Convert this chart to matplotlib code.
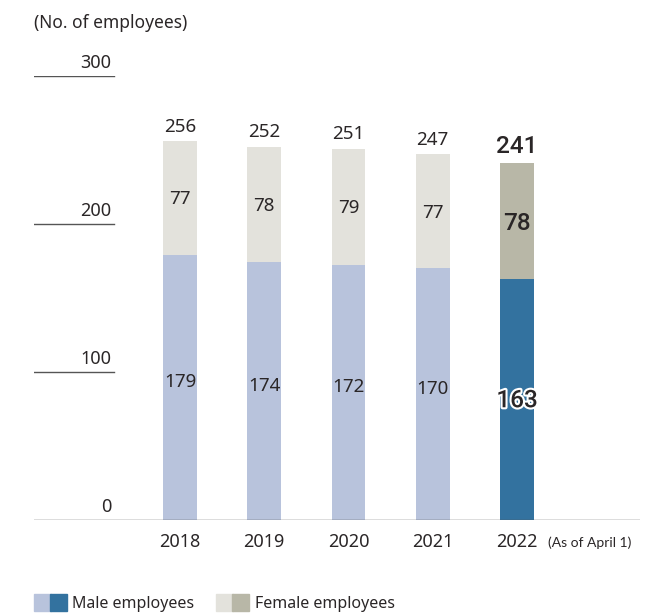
import numpy as np
import matplotlib.pyplot as plt
import matplotlib.patheffects as pe
from matplotlib.patches import Rectangle

plt.rcParams['font.family'] = ['Noto Sans', 'DejaVu Sans']

years = ['2018', '2019', '2020', '2021', '2022']
male = [179, 174, 172, 170, 163]
female = [77, 78, 79, 77, 78]
totals = [256, 252, 251, 247, 241]
yticks = [0, 100, 200, 300]

txt = '#2a2627'
male_c = ['#b8c3dc'] * 4 + ['#33729f']
female_c = ['#e3e2dc'] * 4 + ['#b8b7a7']

W, H = 669, 616
fig = plt.figure(figsize=(W / 100, H / 100), dpi=100)
# axes placed in pixel terms: x 34..640, y 76 (300) .. 520 (0)
ax = fig.add_axes([34 / W, (H - 520) / H, 606 / W, 444 / H])
ax.set_xlim(-1.733, 5.46)
ax.set_ylim(0, 300)
ax.axis('off')

x = np.arange(len(years))
ax.bar(x, male, width=0.40, color=male_c, zorder=2)
ax.bar(x, female, width=0.40, bottom=male, color=female_c, zorder=2)

# short gridline stubs with labels on the left
for t in yticks:
    ax.axhline(t, xmin=0, xmax=(1.0 if t == 0 else 80 / 606), color='#555555', lw=1.0, zorder=3)
    ax.annotate(str(t), xy=(79 / 606, t), xycoords=ax.get_yaxis_transform(),
                xytext=(-1, 3), textcoords='offset points', ha='right', va='bottom',
                fontsize=13, color=txt)

for i in range(len(years)):
    last = i == len(years) - 1
    # latest year gets larger, heavier labels
    style = dict(fontsize=17.5, fontweight='medium', family=['Roboto']) if last \
        else dict(fontsize=13.5)
    ax.annotate(str(totals[i]), xy=(x[i], male[i] + female[i]), xytext=(0, 4),
                textcoords='offset points', ha='center', va='bottom', color=txt, **style)
    ax.annotate(str(female[i]), xy=(x[i], male[i] + female[i] / 2),
                xytext=(0, -2 if last else -1), textcoords='offset points',
                ha='center', va='center', color=txt, zorder=4, **style)
    t = ax.annotate(str(male[i]), xy=(x[i], male[i] / 2),
                    xytext=(0, -1 if last else 4), textcoords='offset points',
                    ha='center', va='center', color=txt, zorder=4, **style)
    if last:
        t.set_path_effects([pe.withStroke(linewidth=3, foreground='white')])
    ax.annotate(years[i], xy=(x[i], 0), xytext=(0, -9.5), textcoords='offset points',
                ha='center', va='top', fontsize=13, color=txt)

ax.annotate('(As of April 1)', xy=(x[-1] + 0.37, 0), xytext=(0, -12), textcoords='offset points',
            ha='left', va='top', fontsize=10, color=txt, family='Lato')

fig.text(34 / W, 1 - 23.5 / H, '(No. of employees)', ha='left', va='center', fontsize=12.5,
         color=txt)

# legend built from paired swatches
def swatch(px, color):
    fig.patches.append(Rectangle((px / W, 1 - 611 / H), 17 / W, 17 / H,
                                 transform=fig.transFigure, color=color, figure=fig))

swatch(34, male_c[0]); swatch(50, male_c[-1])
fig.text(72 / W, 1 - 604.5 / H, 'Male employees', ha='left', va='center', fontsize=11.5,
         color=txt)
swatch(216, female_c[0]); swatch(232, female_c[-1])
fig.text(255 / W, 1 - 604.5 / H, 'Female employees', ha='left', va='center', fontsize=11.5,
         color=txt)

fig.savefig('out.png', dpi=100)
